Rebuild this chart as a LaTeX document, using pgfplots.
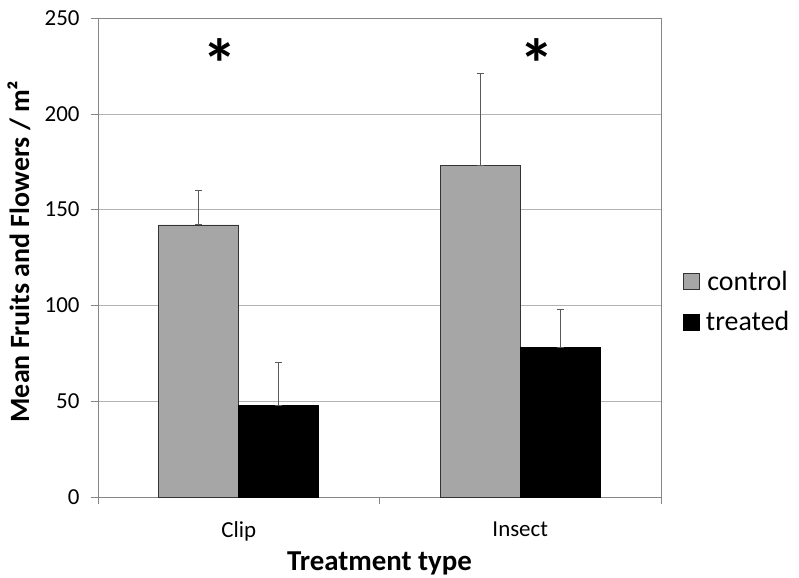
\documentclass[border=0pt]{standalone}
\usepackage{pgfplots}
\pgfplotsset{compat=1.18}
\usepackage{fontspec}
\setmainfont{Carlito}
\definecolor{ctrl}{HTML}{A6A6A6}
\definecolor{gridc}{HTML}{B3B3B3}
\definecolor{framec}{HTML}{868686}
\definecolor{errc}{HTML}{595959}

\begin{document}
\begin{tikzpicture}
\begin{axis}[
    name=ax,
    scale only axis,
    width=563bp, height=479bp,
    ybar=0pt, bar width=80bp,
    xmin=-0.5, xmax=1.5,
    ymin=0, ymax=250,
    xtick={0,1}, xticklabels={Clip,Insect},
    minor xtick={-0.5,0.5,1.5},
    ytick={0,50,100,150,200,250},
    major x tick style={draw=none},
    minor x tick style={framec, thin},
    minor tick length=7bp,
    major tick length=7bp,
    tick align=outside,
    xtick pos=lower, ytick pos=left,
    ytick style={framec, thin},
    ymajorgrids, grid style={gridc, thin},
    axis line style={framec},
    /pgf/number format/assume math mode=true,
    tick label style={font=\fontsize{23}{26}\selectfont},
    xticklabel style={yshift=-14bp},
    yticklabel style={xshift=-8bp},
    xlabel={\textbf{Treatment type}},
    ylabel={\textbf{Mean Fruits and Flowers / m²}},
    xlabel style={font=\fontsize{29}{32}\selectfont,
        at={(axis description cs:0.5,0)}, anchor=base, yshift=-73bp},
    ylabel style={font=\fontsize{28}{32}\selectfont,
        at={(axis description cs:0,0.5)}, anchor=center, yshift=79bp, xshift=6bp},
    legend style={at={(axis description cs:1,0.5)}, anchor=west,
        xshift=22bp, yshift=-44bp, draw=none, inner sep=0pt,
        font=\fontsize{28}{32}\selectfont, row sep=16bp,
        /tikz/every odd column/.append style={column sep=4bp}},
    legend image code/.code={\draw[#1] (0bp,-8bp) rectangle (16bp,8bp);},
    error bars/y dir=both, error bars/y explicit,
    error bars/error bar style={errc, line width=1pt},
    error bars/error mark options={rotate=90, errc, mark size=3.5bp, line width=1pt},
]
\addplot[fill=ctrl, draw=black!80, line width=0.8pt] coordinates {
    (0,142) += (0,18) -= (0,0)
    (1,173) += (0,48) -= (0,0)
};
\addplot[fill=black, draw=black, line width=0.8pt] coordinates {
    (0,48) += (0,22) -= (0,0)
    (1,78) += (0,20) -= (0,0)
};
\legend{control,treated}
\node[font=\fontsize{70}{70}\selectfont\bfseries] at (axis cs:-0.067,226) {*};
\node[font=\fontsize{70}{70}\selectfont\bfseries] at (axis cs:1.06,226) {*};
\end{axis}
\pgfresetboundingbox
\useasboundingbox ([shift={(-98bp,-81bp)}]ax.south west) rectangle ([shift={(138bp,18bp)}]ax.north east);
\end{tikzpicture}
\end{document}
